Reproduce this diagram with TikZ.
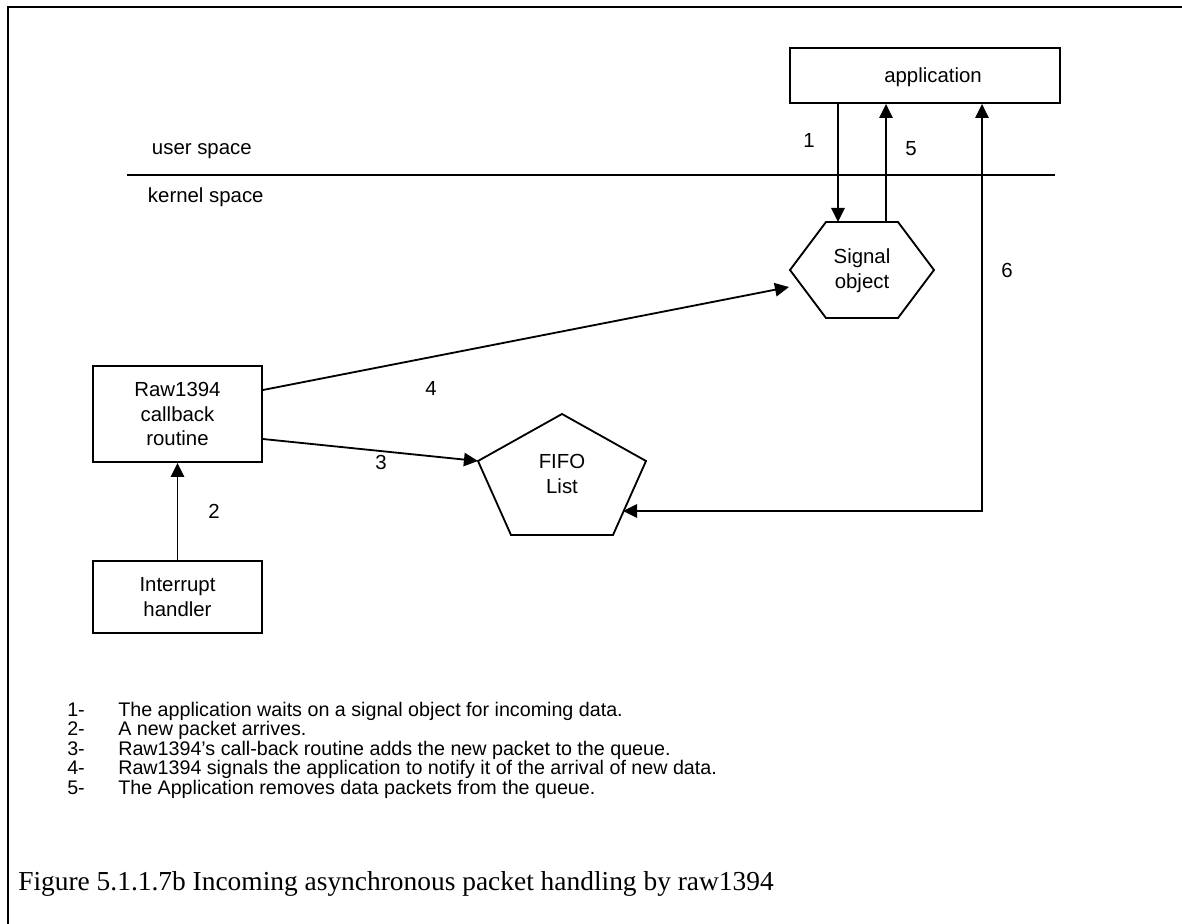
\documentclass[tikz,border=0pt]{standalone}
\usepackage{fontspec}
\setmainfont{Liberation Sans}
\newfontfamily\capfont{Liberation Serif}
\usetikzlibrary{arrows.meta,positioning}

\begin{document}
\begin{tikzpicture}[%
    x=0.025cm, y=-0.025cm,       % one unit is one pixel, y runs down
    >={Triangle[length=10pt,width=9.5pt]},
    node distance=2.4cm,
    ]
% -------------------------------------------------
% Styles for boxes, shapes and connectors
\tikzset{
  base/.style={align=center, font=\fontsize{14.5}{17.5}\selectfont},
  box/.style={base, draw, line width=1.3pt, inner sep=0pt},
  lbl/.style={base},
  shp/.style={draw, line width=1.3pt, line join=miter},
  to/.style={->, line width=1.3pt},
  both/.style={<->, line width=1.3pt},
  sep/.style={line width=1.1pt},
  notes/.style={font=\fontsize{14}{12.1}\selectfont, anchor=north west, inner sep=0pt},
}
\useasboundingbox (0,0) rectangle (1182,924);
% outer frame (left and top only)
\draw[line width=2pt] (8,924) -- (8,7) -- (1182,7);

% -------------------------------------------------
% Boxes
\node[box, minimum width=6.75cm, minimum height=1.375cm, text depth=0pt] (app) at (925,75.5) {\hspace*{0.4cm}application};
\node[box, minimum width=4.225cm, minimum height=2.4cm] (cb) at (177.5,414) {Raw1394\\callback\\routine};
\node[box, minimum width=4.225cm, minimum height=1.8cm, below=2.425cm of cb] (irq) {Interrupt\\handler};

% user / kernel separator
\coordinate (sepl) at (127,175);
\coordinate (sepr) at (1055,175);
\draw[sep] (sepl) -- (sepr);
\node[lbl, anchor=west] (user) at (147,151) {user space};
\node[lbl, anchor=west] (kern) at (143,197) {kernel space};

% signal object (flattened hexagon)
\coordinate (h1) at (826,222);
\coordinate (h2) at (898,222);
\coordinate (h3) at (934,270);
\coordinate (h4) at (898,318);
\coordinate (h5) at (826,318);
\coordinate (h6) at (790,270);
\draw[shp] (h1) -- (h2) -- (h3) -- (h4) -- (h5) -- (h6) -- cycle;
\node[lbl] (sig) at (862,271) {Signal\\object};

% FIFO list (flattened pentagon)
\coordinate (p1) at (562,414);
\coordinate (p2) at (646,461);
\coordinate (p3) at (613,535);
\coordinate (p4) at (511,535);
\coordinate (p5) at (478,461);
\draw[shp] (p1) -- (p2) -- (p3) -- (p4) -- (p5) -- cycle;
\node[lbl] (fifo) at (562,474) {FIFO\\List};

% -------------------------------------------------
% Connector end points
\coordinate (in1) at (838,222);
\coordinate (out5) at (886,222);
\coordinate (in4) at (789,287);
\coordinate (in6) at (623,511);
\coordinate (turn6) at (982,511);

\draw[to] (app.south -| in1) -- (in1);                  % 1
\draw[to] (irq.north) -- (cb.south);                    % 2
\draw[to] ([yshift=-0.625cm]cb.east) -- (p5);           % 3
\draw[to] ([yshift=0.6cm]cb.east) -- (in4);             % 4
\draw[to] (out5) -- (app.south -| out5);                % 5
\draw[both] (in6) -- (turn6) -- (turn6 |- app.south);   % 6

% step numbers
\node[lbl] (n1) at (809,140) {1};
\node[lbl] (n2) at (214,511) {2};
\node[lbl] (n3) at (381,462) {3};
\node[lbl] (n4) at (431,388) {4};
\node[lbl] (n5) at (911,149) {5};
\node[lbl] (n6) at (1007,270) {6};

% -------------------------------------------------
% Notes and caption
\node[notes] (steps) at (67,702) {%
  \begin{tabular}{@{}p{1.275cm}@{}l@{}}
  1- & The application waits on a signal object for incoming data.\\
  2- & A new packet arrives.\\
  3- & Raw1394’s call-back routine adds the new packet to the queue.\\
  4- & Raw1394 signals the application to notify it of the arrival of new data.\\
  5- & The Application removes data packets from the queue.
  \end{tabular}};
\node[anchor=west, inner sep=0pt, font=\capfont\fontsize{19.5}{22}\selectfont] (caption) at (18,884)
  {Figure 5.1.1.7b Incoming asynchronous packet handling by raw1394};
\end{tikzpicture}
\end{document}
